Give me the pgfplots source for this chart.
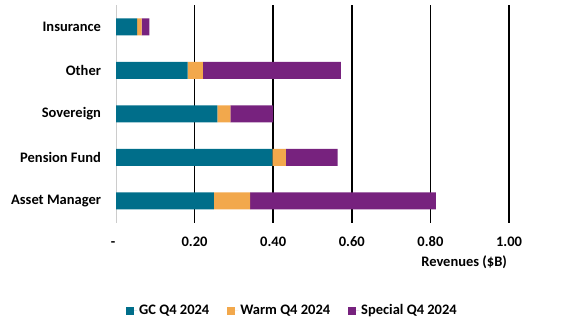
\documentclass[border=0pt]{standalone}
\usepackage{pgfplots}
\pgfplotsset{compat=1.18}
\usepackage{fontspec}
\setmainfont{Carlito}
\definecolor{gcc}{HTML}{006E8A}
\definecolor{warmc}{HTML}{F2A84C}
\definecolor{specc}{HTML}{77227E}
\begin{document}
\fontsize{14.5bp}{17bp}\selectfont\bfseries
\begin{tikzpicture}
\begin{axis}[
  scale only axis,
  width=393bp, height=217.5bp,
  xmin=0, xmax=1, ymin=-0.5, ymax=4.5,
  xbar stacked, bar width=17bp,
  axis line style={draw=none},
  major tick length=0pt,
  xtick={0.2,0.4,0.6,0.8,1.0},
  xticklabels={0.20,0.40,0.60,0.80,1.00},
  extra x ticks={0},
  extra x tick labels={-},
  extra x tick style={grid style={draw=black!20, line width=1bp}, xticklabel style={xshift=-3bp}},
  xmajorgrids,
  grid style={draw=black, line width=1.5bp},
  xticklabel style={anchor=base, yshift=-24bp, font=\fontsize{14.5bp}{17bp}\selectfont\bfseries},
  ytick={0,1,2,3,4},
  yticklabels={Asset Manager,Pension Fund,Sovereign,Other,Insurance},
  yticklabel style={anchor=east, xshift=-10bp, font=\fontsize{14.5bp}{17bp}\selectfont\bfseries},
  xlabel={Revenues (\$B)},
  xlabel style={at={(axis description cs:1,0)}, anchor=base east, yshift=-44bp, xshift=3bp, font=\fontsize{14.5bp}{17bp}\selectfont\bfseries},
  clip=false,
  legend style={draw=none, at={(rel axis cs:0.449,-0.405)}, anchor=center, legend columns=3,
    font=\fontsize{14.5bp}{17bp}\selectfont\bfseries,
    /tikz/every even column/.append style={column sep=16bp}},
  legend image code/.code={\fill[#1] (0bp,-4bp) rectangle (8bp,4bp); \path (0bp,0bp) -- (11bp,0bp);},
]
\addplot[fill=gcc, draw=none] coordinates {(0.249,0) (0.398,1) (0.258,2) (0.182,3) (0.054,4)};
\addplot[fill=warmc, draw=none] coordinates {(0.092,0) (0.034,1) (0.033,2) (0.039,3) (0.011,4)};
\addplot[fill=specc, draw=none] coordinates {(0.473,0) (0.132,1) (0.109,2) (0.351,3) (0.020,4)};
\legend{GC Q4 2024, Warm Q4 2024, Special Q4 2024}
\path (rel axis cs:-0.2952,-0.4517) rectangle (rel axis cs:1.1705,1.0241);
\end{axis}
\end{tikzpicture}
\end{document}
